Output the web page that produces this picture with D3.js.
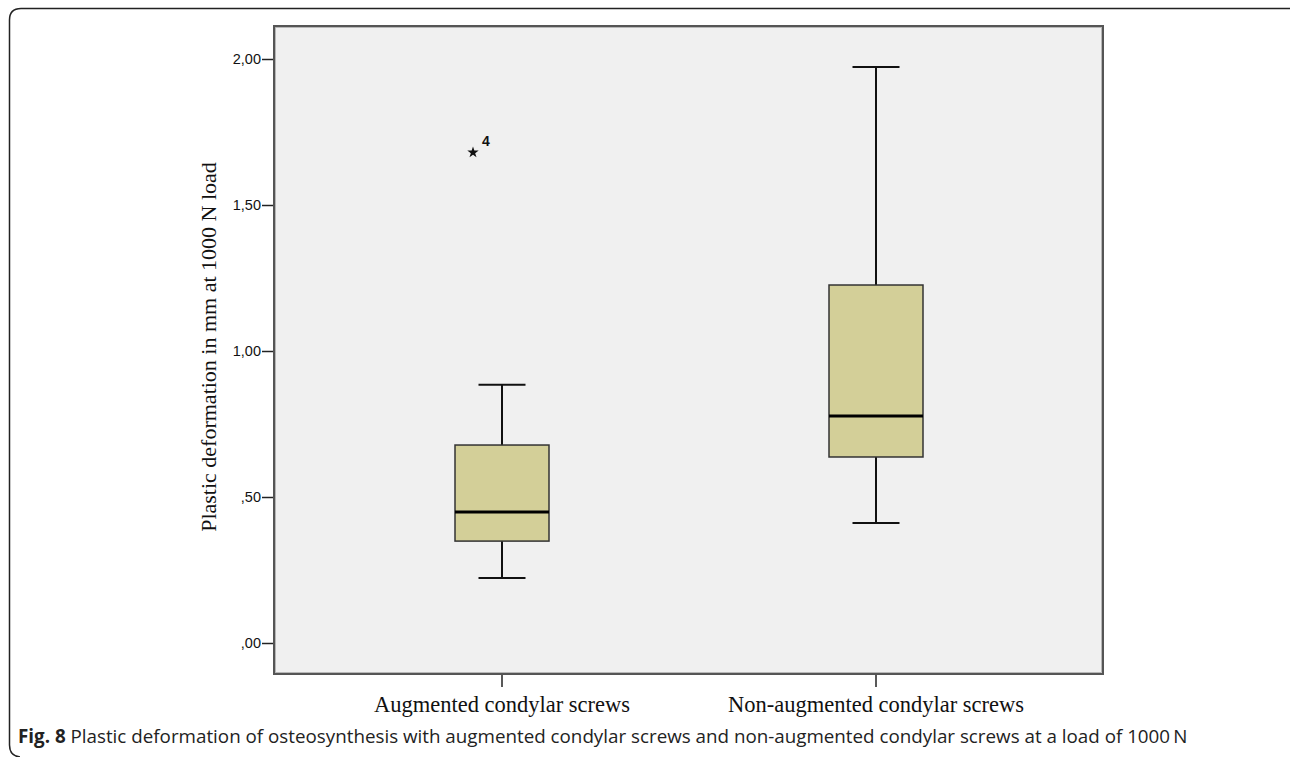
<!DOCTYPE html>
<html lang="en">
<head>
<meta charset="utf-8">
<script src="https://cdnjs.cloudflare.com/ajax/libs/d3/7.8.5/d3.min.js"></script>
<style>
  body { margin: 0; background: #fff; }
  svg { display: block; }
</style>
</head>
<body>
<svg width="1290" height="757"></svg>
<script>
// data
var groups = ["Augmented condylar screws", "Non-augmented condylar screws"];
var whiskerLow = [0.223, 0.411];
var q1 = [0.349, 0.637];
var median = [0.449, 0.777];
var q3 = [0.678, 1.226];
var whiskerHigh = [0.884, 1.973];
var outliers = [{group: 0, value: 1.68, label: "4"}];
var yTicks = [0, 0.5, 1, 1.5, 2];

var svg = d3.select("svg");

// outer frame of the figure
svg.append("path")
    .attr("d", "M1300,8.5 L21,8.5 Q9.5,8.5 9.5,20 L9.5,745 Q9.5,756 20,757")
    .attr("fill", "none")
    .attr("stroke", "#222")
    .attr("stroke-width", 1.5);

var plot = {left: 274, top: 26, right: 1103, bottom: 674};

var y = d3.scaleLinear()
    .domain([0, 2])
    .range([643, 59]);

var x = d3.scaleBand()
    .domain(groups)
    .range([315, 1063])
    .padding(0);

// plot background
svg.append("rect")
    .attr("x", plot.left)
    .attr("y", plot.top)
    .attr("width", plot.right - plot.left)
    .attr("height", plot.bottom - plot.top)
    .attr("fill", "#f0f0f0")
    .attr("stroke", "#555")
    .attr("stroke-width", 2);

svg.append("rect")
    .attr("x", plot.left + 1.5)
    .attr("y", plot.top + 1.5)
    .attr("width", plot.right - plot.left - 3)
    .attr("height", plot.bottom - plot.top - 3)
    .attr("fill", "none")
    .attr("stroke", "#aaa")
    .attr("stroke-width", 0.8);

// y axis
var yAxis = d3.axisLeft(y)
    .tickValues(yTicks)
    .tickSize(11)
    .tickPadding(1)
    .tickFormat(function (d) {
        var s = d3.format(".2f")(d).replace(".", ",");
        return s.charAt(0) === "0" ? s.slice(1) : s;
    });

var gy = svg.append("g")
    .attr("transform", "translate(" + (plot.left - 1) + ",0)")
    .call(yAxis);
gy.select(".domain").remove();
gy.selectAll(".tick line").attr("stroke", "#222").attr("stroke-width", 1.5);
gy.selectAll(".tick text")
    .attr("fill", "#111")
    .style("font-family", "Liberation Sans, Arial, sans-serif")
    .style("font-size", "14.5px");

// x axis
var xAxis = d3.axisBottom(x).tickSize(12).tickPadding(9);
var gx = svg.append("g")
    .attr("transform", "translate(0," + (plot.bottom + 1) + ")")
    .call(xAxis);
gx.select(".domain").remove();
gx.selectAll(".tick line").attr("stroke", "#222").attr("stroke-width", 1.5);
gx.selectAll(".tick text")
    .attr("fill", "#111")
    .style("font-family", "Liberation Serif, Times New Roman, serif")
    .style("font-size", "22.5px");

// y axis title
svg.append("text")
    .attr("transform", "translate(216,347) rotate(-90)")
    .attr("text-anchor", "middle")
    .style("font-family", "Liberation Serif, Times New Roman, serif")
    .style("font-size", "22px")
    .attr("fill", "#111")
    .text("Plastic deformation in mm at 1000 N load");

// boxes
var boxW = 94, capW = 47;
var idx = d3.range(groups.length);
var box = svg.append("g").selectAll("g")
    .data(idx)
    .enter()
    .append("g")
    .attr("transform", function (i) { return "translate(" + (x(groups[i]) + x.bandwidth() / 2) + ",0)"; });

// whisker stems
box.append("line")
    .attr("x1", 0).attr("x2", 0)
    .attr("y1", function (i) { return y(whiskerHigh[i]); })
    .attr("y2", function (i) { return y(q3[i]); })
    .attr("stroke", "#111").attr("stroke-width", 2);
box.append("line")
    .attr("x1", 0).attr("x2", 0)
    .attr("y1", function (i) { return y(q1[i]); })
    .attr("y2", function (i) { return y(whiskerLow[i]); })
    .attr("stroke", "#111").attr("stroke-width", 2);

// caps
box.append("line")
    .attr("x1", -capW / 2).attr("x2", capW / 2)
    .attr("y1", function (i) { return y(whiskerHigh[i]); })
    .attr("y2", function (i) { return y(whiskerHigh[i]); })
    .attr("stroke", "#111").attr("stroke-width", 2);
box.append("line")
    .attr("x1", -capW / 2).attr("x2", capW / 2)
    .attr("y1", function (i) { return y(whiskerLow[i]); })
    .attr("y2", function (i) { return y(whiskerLow[i]); })
    .attr("stroke", "#111").attr("stroke-width", 2);

box.append("rect")
    .attr("x", -boxW / 2)
    .attr("width", boxW)
    .attr("y", function (i) { return y(q3[i]); })
    .attr("height", function (i) { return y(q1[i]) - y(q3[i]); })
    .attr("fill", "#d3cf98")
    .attr("stroke", "#333")
    .attr("stroke-width", 1.5);

box.append("line")
    .attr("x1", -boxW / 2).attr("x2", boxW / 2)
    .attr("y1", function (i) { return y(median[i]); })
    .attr("y2", function (i) { return y(median[i]); })
    .attr("stroke", "#000").attr("stroke-width", 3);

// outliers
var out = svg.append("g").selectAll("g")
    .data(outliers)
    .enter()
    .append("g")
    .attr("transform", function (d) {
        return "translate(" + (x(groups[d.group]) + x.bandwidth() / 2 - 29) + "," + y(d.value) + ")";
    });
out.append("path")
    .attr("d", d3.symbol().type(d3.symbolStar).size(40))
    .attr("fill", "#111");
out.append("text")
    .attr("x", 9)
    .attr("y", -6)
    .style("font-family", "Liberation Sans, Arial, sans-serif")
    .style("font-size", "14px")
    .style("font-weight", "bold")
    .attr("fill", "#111")
    .text(function (d) { return d.label; });

// caption, sized so it runs to the same width as the original
var cap = svg.append("text")
    .attr("x", 18)
    .attr("y", 743)
    .style("font-family", "Open Sans, Noto Sans, sans-serif")
    .style("font-size", "16px")
    .attr("fill", "#222");
cap.append("tspan").style("font-weight", "bold").text("Fig. 8");
cap.append("tspan").text(" Plastic deformation of osteosynthesis with augmented condylar screws and non-augmented condylar screws at a load of 1000\u2009N");
var capW0 = cap.node().getComputedTextLength();
cap.style("font-size", (16 * 1170 / capW0) + "px");
</script>
</body>
</html>
